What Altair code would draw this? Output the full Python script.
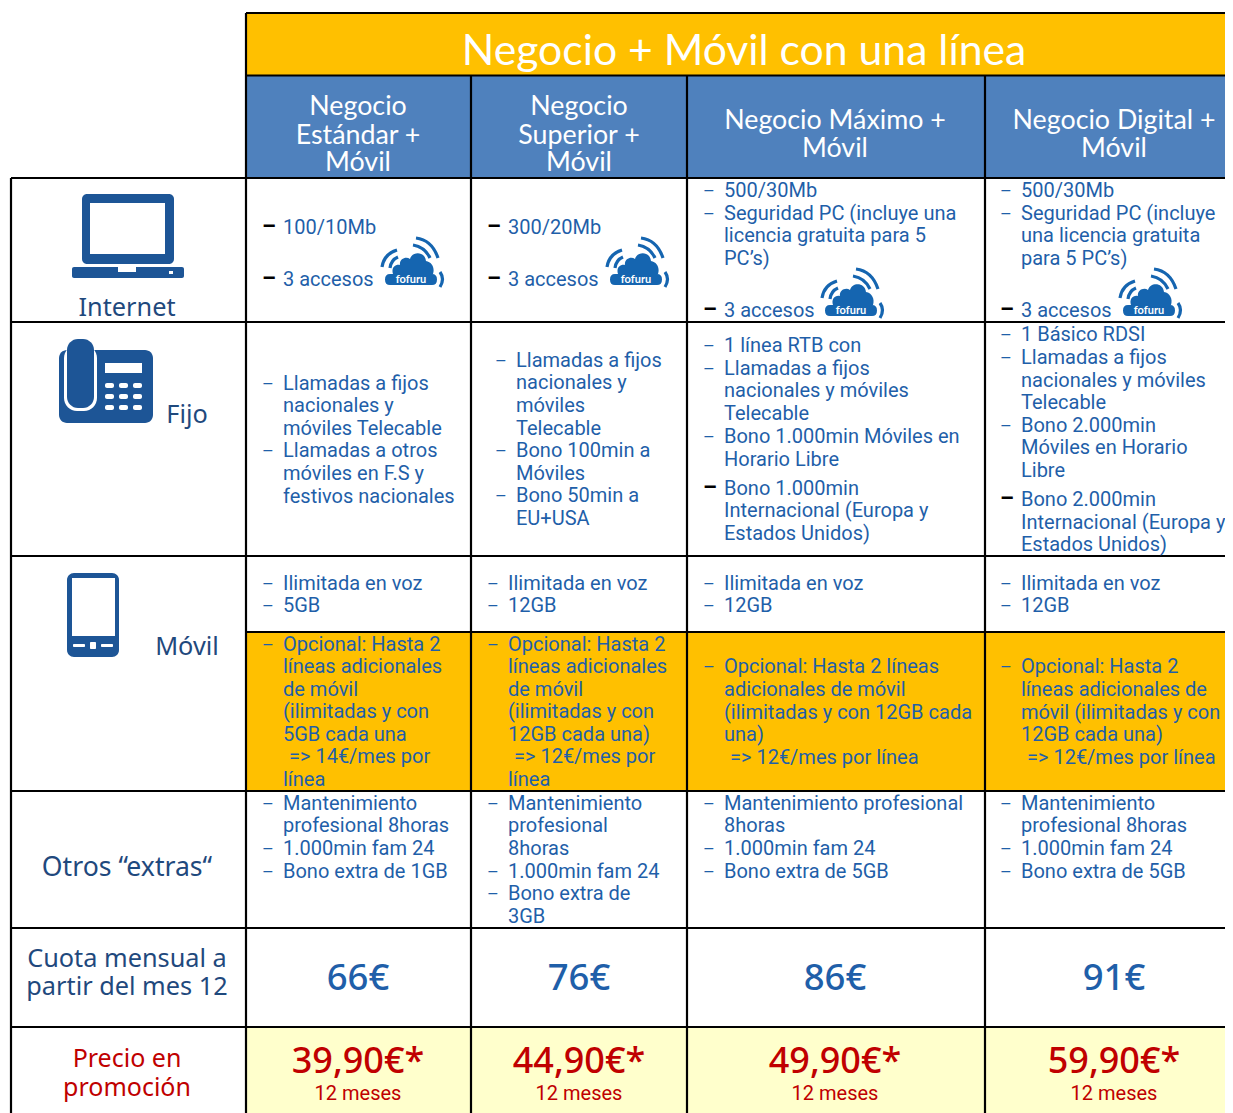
import re
import altair as alt
import pandas as pd

# ---------- text content ----------
TITLE = "Negocio + Móvil con una línea"
PLANS = [["Negocio", "Estándar +", "Móvil"], ["Negocio", "Superior +", "Móvil"],
         ["Negocio Máximo +", "Móvil"], ["Negocio Digital +", "Móvil"]]
CUOTA = ["66€", "76€", "86€", "91€"]
PROMO = ["39,90€*", "44,90€*", "49,90€*", "59,90€*"]
MESES = ["12 meses"] * 4

# "– " blue bullet, "— " black bullet, otherwise a continuation line
INTERNET = [
    ["— 100/10Mb", "— 3 accesos"],
    ["— 300/20Mb", "— 3 accesos"],
    ["– 500/30Mb", "– Seguridad PC (incluye una", "licencia gratuita para 5", "PC’s)", "— 3 accesos"],
    ["– 500/30Mb", "– Seguridad PC (incluye", "una licencia gratuita", "para 5 PC’s)", "— 3 accesos"],
]
FIJO = [
    ["– Llamadas a fijos", "nacionales y", "móviles Telecable", "– Llamadas a otros", "móviles en F.S y", "festivos nacionales"],
    ["– Llamadas a fijos", "nacionales y", "móviles", "Telecable", "– Bono 100min a", "Móviles", "– Bono 50min a", "EU+USA"],
    ["– 1 línea RTB con", "– Llamadas a fijos", "nacionales y móviles", "Telecable", "– Bono 1.000min Móviles en",
     "Horario Libre", "— Bono 1.000min", "Internacional (Europa y", "Estados Unidos)"],
    ["– 1 Básico RDSI", "– Llamadas a fijos", "nacionales y móviles", "Telecable", "– Bono 2.000min", "Móviles en Horario",
     "Libre", "— Bono 2.000min", "Internacional (Europa y", "Estados Unidos)"],
]
MOVIL = [["– Ilimitada en voz", "– 5GB"], ["– Ilimitada en voz", "– 12GB"],
         ["– Ilimitada en voz", "– 12GB"], ["– Ilimitada en voz", "– 12GB"]]
OPCIONAL = [
    ["– Opcional: Hasta 2", "líneas adicionales", "de móvil", "(ilimitadas y con", "5GB cada una", "=> 14€/mes por", "línea"],
    ["– Opcional: Hasta 2", "líneas adicionales", "de móvil", "(ilimitadas y con", "12GB cada una)", "=> 12€/mes por", "línea"],
    ["– Opcional: Hasta 2 líneas", "adicionales de móvil", "(ilimitadas y con 12GB cada", "una)", "=> 12€/mes por línea"],
    ["– Opcional: Hasta 2", "líneas adicionales de", "móvil (ilimitadas y con", "12GB cada una)", "=> 12€/mes por línea"],
]
EXTRAS = [
    ["– Mantenimiento", "profesional 8horas", "– 1.000min fam 24", "– Bono extra de 1GB"],
    ["– Mantenimiento", "profesional", "8horas", "– 1.000min fam 24", "– Bono extra de", "3GB"],
    ["– Mantenimiento profesional", "8horas", "– 1.000min fam 24", "– Bono extra de 5GB"],
    ["– Mantenimiento", "profesional 8horas", "– 1.000min fam 24", "– Bono extra de 5GB"],
]
LEFT_BLUE = ["Internet", "Fijo", "Móvil", "Cuota mensual a", "partir del mes 12"]
LEFT_WIDE = ["Otros “extras“"]
LEFT_RED = ["Precio en", "promoción"]
CLOUD_LABEL = "fofuru"

# ---------- layout ----------
COL_LINES = [246, 471, 687, 985]
COL_CENTER = [358, 579, 835, 1114]
TEXT_X = [283, 508, 724, 1021]
Y_INTERNET = [[234, 286], [234, 286], [197, 220, 242, 265, 317], [197, 220, 242, 265, 317]]
Y_FIJO = [[390, 412, 435, 457, 480, 503], [367, 389, 412, 435, 457, 480, 502, 525],
          [352, 375, 397, 420, 443, 466, 495, 517, 540], [341, 364, 387, 409, 432, 454, 477, 506, 529, 551]]
Y_MOVIL = [[590, 612]] * 4
Y_OPC = [[651, 673, 696, 718, 741, 763, 786], [651, 673, 696, 718, 741, 763, 786],
         [673, 696, 719, 741, 764], [673, 696, 719, 741, 764]]
Y_EXTRAS = [[810, 832, 855, 878], [810, 832, 855, 878, 900, 923], [810, 832, 855, 878], [810, 832, 855, 878]]
Y_HEAD = [[115, 144, 171], [115, 144, 171], [129, 157], [129, 157]]
FIJO_SHIFT = [0, 8, 0, 0]
LEFT_BLUE_POS = [(127, 316), (187, 423), (187, 655), (127, 967), (127, 995)]
LEFT_WIDE_POS = [(127, 876)]
LEFT_RED_POS = [(127, 1067), (127, 1096)]
CLOUD_POS = [(413, 262), (638, 262), (853, 293), (1151, 293)]

YELLOW, HEAD_BLUE, PALE = "#FFC000", "#4F81BD", "#FFFFCC"
INK, DARK, RED = "#1F5FA9", "#1F497D", "#C00000"
ICON = "#1D5596"
BODY_FONT = "Roboto"
BODY_SIZE = 20
R_EDGE = 1225
B_EDGE = 1113

XS = alt.Scale(domain=[8, R_EDGE])
YS = alt.Scale(domain=[B_EDGE, 8])


def enc(chart, two=False):
    e = dict(x=alt.X("x:Q", scale=XS, axis=None), y=alt.Y("y:Q", scale=YS, axis=None))
    if two:
        e.update(x2="x2:Q", y2="y2:Q")
    return chart.encode(**e)


def rects(boxes, color, radius=0):
    df = pd.DataFrame(boxes, columns=["x", "x2", "y", "y2"])
    kw = dict(cornerRadius=radius) if radius else {}
    return enc(alt.Chart(df).mark_rect(color=color, **kw), True)


def rules(segs):
    df = pd.DataFrame(segs, columns=["x", "x2", "y", "y2"])
    return enc(alt.Chart(df).mark_rule(color="#000000", strokeWidth=2.2), True)


def texts(rows, color, size, font=BODY_FONT, align="left", **kw):
    df = pd.DataFrame(rows, columns=["x", "y", "t"])
    return enc(alt.Chart(df).mark_text(color=color, fontSize=size, font=font, align=align,
                                       baseline="alphabetic", **kw)).encode(text="t:N")


def scaled(path, r):
    return re.sub(r"-?\d+\.?\d*", lambda m: f"{float(m.group())/r:.4f}", path)


layers = []
# backgrounds
layers.append(rects([(246, R_EDGE, 13, 76)], YELLOW))
layers.append(rects([(246, R_EDGE, 76, 178)], HEAD_BLUE))
layers.append(rects([(246, R_EDGE, 632, 791)], YELLOW))
layers.append(rects([(246, R_EDGE, 1027, B_EDGE)], PALE))

# grid
segs = [(x, x, 76, B_EDGE) for x in COL_LINES]
segs[0] = (246, 246, 13, B_EDGE)
segs.append((11, 11, 178, B_EDGE))
segs += [(246, R_EDGE, 13, 13), (246, R_EDGE, 75.5, 75.5)]
segs += [(11, R_EDGE, y, y) for y in (178, 322, 556, 791, 928, 1027)]
segs.append((246, R_EDGE, 632, 632))
layers.append(rules(segs))

# body text
blue_lines, blue_dash, black_dash = [], [], []
for cells, ys, shifts in [(INTERNET, Y_INTERNET, [0] * 4), (FIJO, Y_FIJO, FIJO_SHIFT), (MOVIL, Y_MOVIL, [0] * 4),
                          (OPCIONAL, Y_OPC, [0] * 4), (EXTRAS, Y_EXTRAS, [0] * 4)]:
    for c, (cell, col_y) in enumerate(zip(cells, ys)):
        tx = TEXT_X[c] + shifts[c]
        for line, y in zip(cell, col_y):
            if line.startswith("– "):
                blue_dash.append((tx - 21, y, "–"))
                line = line[2:]
            elif line.startswith("— "):
                black_dash.append((tx - 21, y, "–"))
                line = line[2:]
            blue_lines.append((tx + (6 if line.startswith("=>") else 0), y, line))
layers.append(texts(blue_lines, INK, BODY_SIZE))
layers.append(texts(blue_dash, INK, 18))
layers.append(texts(black_dash, "#000000", 22, fontWeight="bold"))

# header text
layers.append(texts([(744, 65, TITLE)], "#FFFFFF", 42.7, font="Lato", align="center"))
head = [(COL_CENTER[c], y, t) for c in range(4) for t, y in zip(PLANS[c], Y_HEAD[c])]
layers.append(texts(head, "#FFFFFF", 26.8, font="Lato", align="center"))

# left labels
layers.append(texts([(p[0], p[1], t) for p, t in zip(LEFT_BLUE_POS, LEFT_BLUE)], DARK, 25.3, font="Noto Sans", align="center"))
layers.append(texts([(p[0], p[1], t) for p, t in zip(LEFT_WIDE_POS, LEFT_WIDE)], DARK, 26.6, font="Noto Sans", align="center"))
layers.append(texts([(p[0], p[1], t) for p, t in zip(LEFT_RED_POS, LEFT_RED)], RED, 25, font="Noto Sans", align="center"))

# prices
layers.append(texts([(x, 990, t) for x, t in zip(COL_CENTER, CUOTA)], INK, 36.5, font="Noto Sans", align="center", fontWeight=500))
layers.append(texts([(x, 1073, t) for x, t in zip(COL_CENTER, PROMO)], RED, 36, font="Noto Sans", align="center", fontWeight=500))
layers.append(texts([(x, 1100, t) for x, t in zip(COL_CENTER, MESES)], RED, 20, align="center"))

# laptop icon
layers.append(rects([(82, 174, 194, 264)], ICON, 5))
layers.append(rects([(72, 184, 267, 278)], ICON, 2))
layers.append(rects([(90, 165, 203, 254), (118, 136, 267, 272), (169, 173, 271, 274)], "#FFFFFF"))
# desk phone icon
layers.append(rects([(59, 153, 350, 423)], ICON, 8))
layers.append(rects([(64, 97, 345, 411)], "#FFFFFF", 13))
layers.append(rects([(67, 94, 339, 408)], ICON, 11))
layers.append(rects([(105, 142, 363, 373)], "#FFFFFF"))
layers.append(rects([(x, x + 9, y, y + 5) for y in (383, 394, 405) for x in (105, 119, 133)], "#FFFFFF", 2))
# mobile icon
layers.append(rects([(67, 119, 573, 657)], ICON, 7))
layers.append(rects([(72, 115, 578, 636)], "#FFFFFF"))
layers.append(rects([(73, 85, 644, 647), (101, 113, 644, 647), (90, 96, 642, 649)], "#FFFFFF", 1))

# cloud logo
R = 32
SOLID = ("M-20 12 C-22 6 -18 2 -13 3 C-14 -3 -7 -6 -3 -3 C-1 -11 12 -11 13 -1 C19 0 22 6 20 12 Z "
         "M-23 12 L19 12 Q24 12 24 17.5 Q24 23 19 23 L-23 23 Q-28 23 -28 17.5 Q-28 12 -23 12 Z")
ARCS = ("M3 -24 Q19 -22 25 -4 M0 -17 Q12 -15 17 -4 M-31 5 Q-29 -8 -16 -12 M-23 6 Q-22 -2 -15 -5 "
        "M27 10 Q32 17 27 25")
cloud_df = pd.DataFrame(CLOUD_POS, columns=["x", "y"])
layers.append(enc(alt.Chart(cloud_df).mark_point(shape=scaled(SOLID, R), filled=True, color="#1565B0", opacity=1))
              .encode(size=alt.value(4 * R * R)))
layers.append(enc(alt.Chart(cloud_df).mark_point(shape=scaled(ARCS, R), filled=False, color="#1565B0", opacity=1,
                                                 strokeWidth=3.2)).encode(size=alt.value(4 * R * R)))
layers.append(texts([(x - 2, y + 21, CLOUD_LABEL) for x, y in CLOUD_POS], "#FFFFFF", 11, font="Lato",
                    align="center", fontWeight="bold"))

chart = alt.layer(*layers).properties(width=R_EDGE - 8, height=B_EDGE - 8, padding=0, background="#FFFFFF",
                                      autosize=alt.AutoSizeParams(type="none")).configure_view(stroke=None)
chart.save("out.html", embed_options={"renderer": "svg", "actions": False})
